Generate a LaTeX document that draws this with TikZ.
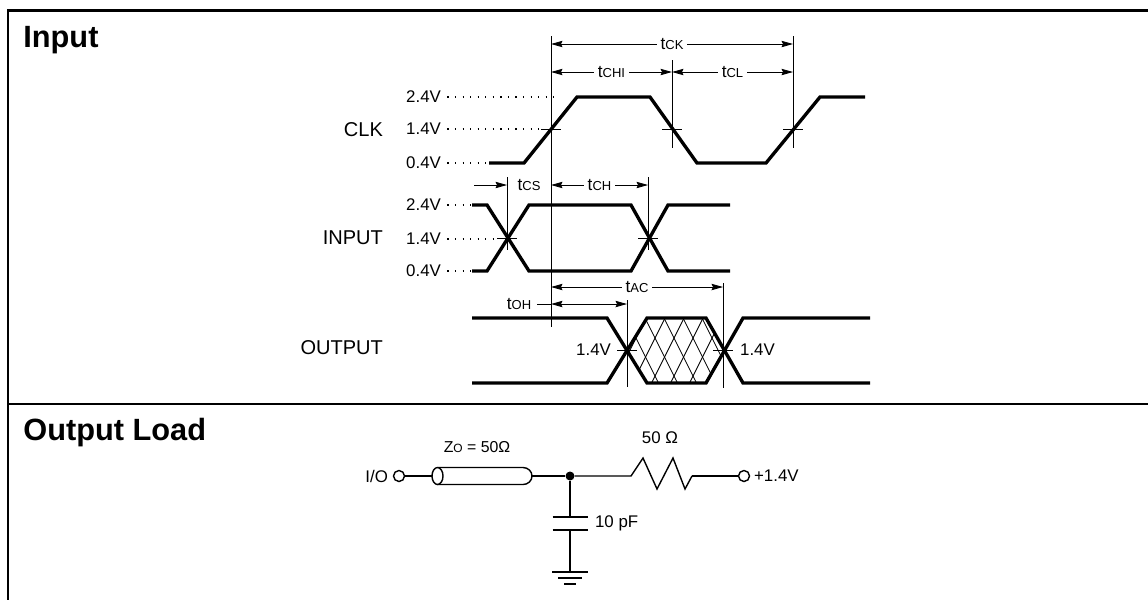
\documentclass[tikz,border=0pt]{standalone}
\usepackage{fontspec}
\setmainfont{Liberation Sans}
\usetikzlibrary{arrows.meta,positioning,calc}

\newcommand{\lvfont}{\fontsize{9.6pt}{11pt}\selectfont}
\newcommand{\nmfont}{\fontsize{11.4pt}{13pt}\selectfont}
\newcommand{\hdfont}{\fontsize{17.5pt}{20pt}\selectfont\bfseries}
\newcommand{\tpar}[1]{{\fontsize{9.8pt}{11pt}\selectfont t}{\fontsize{7.4pt}{9pt}\selectfont #1}}

\begin{document}
\begin{tikzpicture}[x=0.02cm, y=-0.02cm, >={Stealth[length=6.5pt,width=3.6pt,inset=0.8pt]}]

\tikzstyle{wave} = [line width=1.9pt]
\tikzstyle{guide} = [line width=0.5pt]
\tikzstyle{dim} = [line width=0.5pt, <->]
\tikzstyle{lvl} = [line width=0.7pt, dash pattern=on 0.7pt off 3.6pt, shorten <=2.5pt]
\tikzstyle{volt} = [anchor=east, inner sep=1pt, font=\lvfont]
\tikzstyle{signame} = [anchor=east, inner sep=1pt, font=\nmfont]
\tikzstyle{tlab} = [fill=white, inner sep=2pt]
\tikzstyle{wire} = [line width=0.8pt]
\tikzstyle{term} = [circle, draw, line width=0.8pt, fill=white, minimum size=0.22cm, inner sep=0pt]
\tikzstyle{jdot} = [circle, fill=black, minimum size=0.18cm, inner sep=0pt]

\useasboundingbox (0,0) rectangle (1148,600);

% frame
\draw[line width=1.6pt] (1148,10.5) -- (8,10.5) -- (8,600);
\draw[line width=0.6pt] (8,404) -- (1148,404);
\node[anchor=base west, font=\hdfont, inner sep=0pt] (hin) at (23,47.5) {Input};
\node[anchor=base west, font=\hdfont, inner sep=0pt] (hout) at (23,440) {Output Load};

% CLK
\node[signame] (clk) at (385,130) {CLK};
\node[volt] (c24) at (443,97) {2.4V};
\node[volt] (c14) at (443,129) {1.4V};
\node[volt] (c04) at (443,163) {0.4V};
\draw[lvl] (c24.east) -- (560,97);
\draw[lvl] (c14.east) -- (541,129);
\draw[lvl] (c04.east) -- (489,163);
\draw[wave] (489,163) -- (524,163) -- (577,97) -- (650,97) -- (697,163) -- (766,163) -- (820,97) -- (865,97);

% INPUT
\node[signame] (inp) at (385,238) {INPUT};
\node[volt] (i24) at (443,205) {2.4V};
\node[volt] (i14) at (443,239) {1.4V};
\node[volt] (i04) at (443,271) {0.4V};
\draw[lvl] (i24.east) -- (472,205);
\draw[lvl] (i14.east) -- (498,239);
\draw[lvl] (i04.east) -- (472,271);
\draw[wave] (472,205) -- (487,205) -- (529,271) -- (631,271) -- (668,205) -- (730,205);
\draw[wave] (472,271) -- (487,271) -- (529,205) -- (631,205) -- (668,271) -- (730,271);

% OUTPUT
\node[signame] (outp) at (385,348) {OUTPUT};
\begin{scope}
\clip (627,350.5) -- (647,318) -- (706,318) -- (724.5,350.5) -- (706,383) -- (647,383) -- cycle;
\foreach \x in {560,579,...,800} {
  \draw[guide] (\x,300) -- ++(50,100);
  \draw[guide] (\x,300) -- ++(-50,100);
}
\end{scope}
\draw[wave] (472,318) -- (607,318) -- (647,383) -- (706,383) -- (743,318) -- (870,318);
\draw[wave] (472,383) -- (607,383) -- (647,318) -- (706,318) -- (743,383) -- (870,383);
\node[volt] (o14a) at (613,350) {1.4V};
\node[volt, anchor=west] (o14b) at (738,350) {1.4V};

% reference lines and ticks
\draw[guide] (551,36) -- (551,327);
\draw[guide] (672,60) -- (672,148);
\draw[guide] (793,36) -- (793,148);
\draw[guide] (507,177) -- (507,250);
\draw[guide] (648,177) -- (648,250);
\draw[guide] (627,300) -- (627,387);
\draw[guide] (723,283) -- (723,388);
\foreach \p in {(551,129),(672,129),(793,129),(507,238.5),(648,238.5),(627,350.5),(723,350.5)}
  \draw[guide] \p ++(-10,0) -- ++(20,0);

% timing parameters
\draw[dim] (551,44) -- node[tlab] (tck) {\tpar{CK}} (793,44);
\draw[dim] (551,72) -- node[tlab] (tchi) {\tpar{CHI}} (672,72);
\draw[dim] (672,72) -- node[tlab] (tcl) {\tpar{CL}} (793,72);
\draw[guide, ->] (474,185) -- (507,185);
\node (tcs) at (529,185) {\tpar{CS}};
\draw[dim] (551,185) -- node[tlab] (tch) {\tpar{CH}} (648,185);
\draw[dim] (551,287) -- node[tlab] (tac) {\tpar{AC}} (723,287);
\node (toh) at (519,304) {\tpar{OH}};
\draw[guide] (toh.east) -- (551,304);
\draw[dim] (551,304) -- (627,304);

% output load
\node[font=\lvfont, anchor=east, inner sep=1pt] (iol) at (390,476) {I/O};
\node[term] (io) at (399,476) {};
\coordinate (cxa) at (432,476);
\coordinate (cxb) at (532,476);
\draw[wire] (io) -- (cxa);
\draw[wire] (437.5,476) ellipse [x radius=5.5, y radius=8.5];
\draw[wire] (437.5,467.5) -- (523,467.5) arc[start angle=-90, end angle=90, x radius=9, y radius=8.5] -- (437.5,484.5);
\node (zl) at (477,447) {{\fontsize{9pt}{11pt}\selectfont Z}{\fontsize{6.8pt}{8pt}\selectfont O}{\fontsize{9pt}{11pt}\selectfont{} = 50Ω}};
\node[jdot] (jn) at (570,476) {};
\draw[wire] (cxb) -- (jn);
\coordinate (ra) at (631,476);
\coordinate (rb) at (692,476);
\draw[wire] (jn) -- (ra) -- (643,458) -- (657,489) -- (673,458) -- (685,489) -- (rb);
\node[font=\lvfont] (rl) at (660,438) {50 Ω};
\node[term] (vt) at (744,476) {};
\draw[wire] (rb) -- (vt);
\node[font=\lvfont, anchor=west, inner sep=1pt] (vtl) at (752,476) {+1.4V};
\coordinate (cp1) at (570,517);
\coordinate (cp2) at (570,530);
\coordinate (gnd) at (570,572);
\draw[wire] (jn) -- (cp1);
\draw[line width=1.2pt] ($(cp1)+(-17.5,0)$) -- ++(35,0);
\draw[line width=1.2pt] ($(cp2)+(-17.5,0)$) -- ++(35,0);
\draw[wire] (cp2) -- (gnd);
\draw[wire] ($(gnd)+(-18,0)$) -- ++(36,0);
\draw[wire] ($(gnd)+(-12,6)$) -- ++(24,0);
\draw[wire] ($(gnd)+(-6,12)$) -- ++(12,0);
\node[font=\lvfont, anchor=west, inner sep=1pt] (cl) at (593,523) {10 pF};
\end{tikzpicture}
\end{document}
